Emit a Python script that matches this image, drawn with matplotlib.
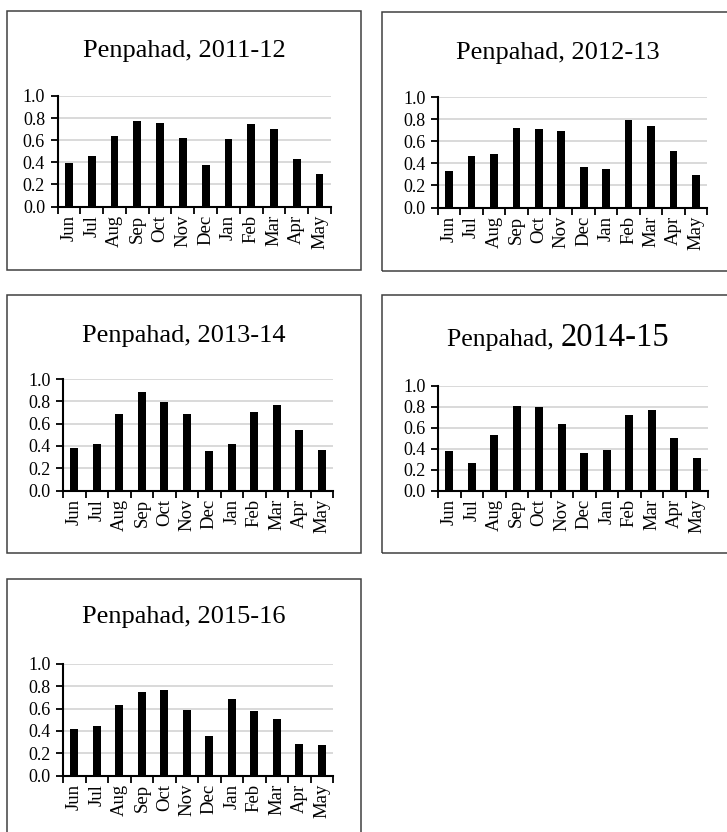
import numpy as np
import matplotlib
matplotlib.use("Agg")
import matplotlib.pyplot as plt
from matplotlib.patches import Rectangle

plt.rcParams['font.family'] = ['Liberation Serif', 'DejaVu Serif']

months = ['Jun', 'Jul', 'Aug', 'Sep', 'Oct', 'Nov', 'Dec', 'Jan', 'Feb', 'Mar', 'Apr', 'May']
yticks = [0.0, 0.2, 0.4, 0.6, 0.8, 1.0]

site = 'Penpahad'
years = ['2011-12', '2012-13', '2013-14', '2014-15', '2015-16']
v2011 = [0.39, 0.46, 0.64, 0.77, 0.76, 0.62, 0.38, 0.61, 0.75, 0.70, 0.43, 0.29]
v2012 = [0.33, 0.47, 0.48, 0.72, 0.71, 0.69, 0.37, 0.35, 0.79, 0.74, 0.51, 0.29]
v2013 = [0.38, 0.42, 0.69, 0.88, 0.79, 0.69, 0.35, 0.42, 0.70, 0.77, 0.54, 0.36]
v2014 = [0.38, 0.26, 0.53, 0.81, 0.80, 0.64, 0.36, 0.39, 0.72, 0.77, 0.50, 0.31]
v2015 = [0.42, 0.44, 0.63, 0.75, 0.77, 0.59, 0.35, 0.69, 0.58, 0.51, 0.28, 0.27]
values = [v2011, v2012, v2013, v2014, v2015]

W, H = 727, 832
fig = plt.figure(figsize=(W / 100, H / 100), dpi=100)

def rect(x0, y0, x1, y1):
    # pixel box (top-left origin) -> figure fraction
    return [x0 / W, 1 - y1 / H, (x1 - x0) / W, (y1 - y0) / H]

# outer boxes, axes areas, title baseline (pixels)
boxes = [(7, 11, 361, 270), (382, 12, 745, 271), (7, 295, 361, 553),
         (382, 295, 745, 553), (7, 579, 361, 850)]
areas = [(57.5, 96, 331, 206.5), (438, 97, 707, 207.5), (63, 379, 333, 490.5),
         (438, 386, 708, 490.5), (63, 664, 333, 775.5)]
titles = [(184, 57), (558, 59), (184, 342), (558, 346), (184, 623)]

for b in boxes:
    x0, y0, w, h = rect(*b)
    fig.patches.append(Rectangle((x0, y0), w, h, transform=fig.transFigure,
                                 fill=False, edgecolor='#404040', lw=1.1))

renderer = fig.canvas.get_renderer()

for i in range(5):
    ax = fig.add_axes(rect(*areas[i]))
    x = np.arange(12)
    ax.bar(x, values[i], width=0.34, color='black', zorder=3)
    ax.set_xlim(-0.5, 11.5)
    ax.set_ylim(0, 1.0)
    ax.set_yticks(yticks, labels=['%.1f' % t for t in yticks])
    ax.set_xticks(x, labels=months, rotation=90)
    ax.set_xticks(np.arange(-0.5, 12), minor=True)
    ax.tick_params(axis='x', which='major', length=0, pad=6, labelsize=13.5)
    ax.tick_params(axis='x', which='minor', length=5, width=1.3, direction='out')
    ax.tick_params(axis='y', length=5, width=1.3, direction='out', pad=4, labelsize=13)
    ax.yaxis.grid(True, color='#d9d9d9', lw=1.4, zorder=0)
    ax.set_axisbelow(True)
    for s in ['top', 'right']:
        ax.spines[s].set_visible(False)
    for s in ['left', 'bottom']:
        ax.spines[s].set_linewidth(1.5)
        ax.spines[s].set_zorder(4)

    tx, ty = titles[i]
    if i == 3:
        # this panel's year is set in a bigger size than the name
        t1 = fig.text(0, 1 - ty / H, site + ', ', fontsize=18.5, va='baseline', ha='left')
        t2 = fig.text(0, 1 - ty / H, years[i], fontsize=23.5, va='baseline', ha='left')
        w1 = t1.get_window_extent(renderer).width
        w2 = t2.get_window_extent(renderer).width
        left = tx - (w1 + w2) / 2
        t1.set_x(left / W)
        t2.set_x((left + w1) / W)
    else:
        fig.text(tx / W, 1 - ty / H, site + ', ' + years[i], fontsize=19,
                 va='baseline', ha='center')

fig.savefig('out.png', dpi=100)
